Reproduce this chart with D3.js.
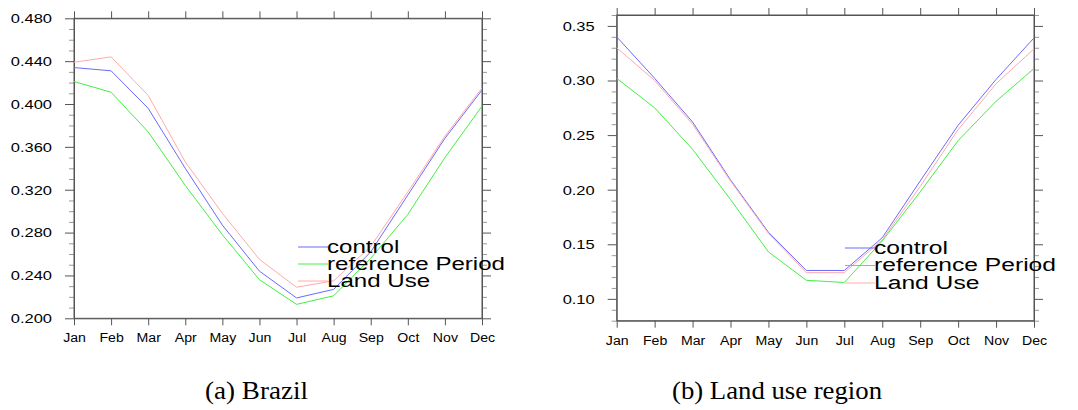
<!DOCTYPE html>
<html>
<head>
<meta charset="utf-8">
<script src="https://cdn.jsdelivr.net/npm/d3@7"></script>
<style>
  body { margin: 0; background: #fff; }
  svg { display: block; }
  .tick text { font-family: "Liberation Sans", Arial, sans-serif; fill: #000; }
</style>
</head>
<body>
<div id="viz"></div>
<script>
// months on the x axis
var months = ["Jan","Feb","Mar","Apr","May","Jun","Jul","Aug","Sep","Oct","Nov","Dec"];
var seriesNames = ["control", "reference Period", "Land Use"];
var seriesColors = ["#6a6aff", "#44ee44", "#ffaaaa"];

// (a) Brazil
var brazilControl   = [0.434, 0.431, 0.396, 0.340, 0.287, 0.244, 0.219, 0.227, 0.262, 0.315, 0.368, 0.413];
var brazilReference = [0.421, 0.411, 0.374, 0.324, 0.278, 0.236, 0.213, 0.221, 0.256, 0.297, 0.350, 0.398];
var brazilLandUse   = [0.439, 0.444, 0.408, 0.346, 0.298, 0.255, 0.229, 0.235, 0.267, 0.318, 0.370, 0.415];
var brazilTicks = [0.200, 0.240, 0.280, 0.320, 0.360, 0.400, 0.440, 0.480];

// (b) Land use region
var regionControl   = [0.340, 0.302, 0.262, 0.209, 0.161, 0.126, 0.126, 0.156, 0.208, 0.259, 0.301, 0.339];
var regionReference = [0.302, 0.275, 0.237, 0.191, 0.143, 0.117, 0.115, 0.153, 0.198, 0.245, 0.281, 0.311];
var regionLandUse   = [0.330, 0.300, 0.260, 0.208, 0.160, 0.124, 0.124, 0.154, 0.203, 0.255, 0.297, 0.329];
var regionTicks = [0.10, 0.15, 0.20, 0.25, 0.30, 0.35];

var panels = [
  {left: 74, right: 482, top: 18.3, bottom: 318.3, domain: [0.20, 0.48],
   ticks: brazilTicks, fmt: d3.format(".3f"),
   series: [brazilControl, brazilReference, brazilLandUse],
   legend: [298, 247, 17, 178], caption: "(a) Brazil", capX: 256.5, capW: 103},
  {left: 616.7, right: 1034, top: 15, bottom: 320.7, domain: [0.08, 0.36],
   ticks: regionTicks, fmt: d3.format(".2f"),
   series: [regionControl, regionReference, regionLandUse],
   legend: [845, 248, 17.5, 182], caption: "(b) Land use region", capX: 777, capW: 210}
];

var svg = d3.select("#viz").append("svg").attr("width", 1078).attr("height", 410);

// NCL fonts are wider than Liberation Sans, stretch the text horizontally
function stretch(sel, factor) {
  sel.each(function() {
    var w = this.getComputedTextLength();
    d3.select(this).attr("textLength", w * factor).attr("lengthAdjust", "spacingAndGlyphs");
  });
}

function styleAxis(g) {
  g.select(".domain").attr("stroke", "#555");
  g.selectAll(".tick line").attr("stroke", "#555");
}

panels.forEach(function(p) {
  var x = d3.scalePoint().domain(months).range([p.left, p.right]);
  var y = d3.scaleLinear().domain(p.domain).range([p.bottom, p.top]);
  var minor = d3.range(Math.round(p.domain[0] * 100), Math.round(p.domain[1] * 100) + 1)
    .map(function(d) { return d / 100; })
    .filter(function(d) { return !p.ticks.some(function(t) { return Math.abs(t - d) < 1e-6; }); });

  var g = svg.append("g");

  // minor ticks on both sides
  g.append("g").attr("transform", "translate(" + p.left + ",0)")
    .call(d3.axisLeft(y).tickValues(minor).tickSize(5).tickFormat(""))
    .call(function(a) { a.select(".domain").remove(); a.selectAll("line").attr("stroke", "#999"); });
  g.append("g").attr("transform", "translate(" + p.right + ",0)")
    .call(d3.axisRight(y).tickValues(minor).tickSize(5).tickFormat(""))
    .call(function(a) { a.select(".domain").remove(); a.selectAll("line").attr("stroke", "#999"); });

  var yl = g.append("g").attr("transform", "translate(" + p.left + ",0)")
    .call(d3.axisLeft(y).tickValues(p.ticks).tickSize(9).tickPadding(13).tickSizeOuter(0).tickFormat(p.fmt))
    .call(styleAxis);
  yl.selectAll("text").style("font-size", "13.5px");
  stretch(yl.selectAll("text"), 1.22);

  g.append("g").attr("transform", "translate(" + p.right + ",0)")
    .call(d3.axisRight(y).tickValues(p.ticks).tickSize(9).tickSizeOuter(0).tickFormat(""))
    .call(styleAxis);

  var xl = g.append("g").attr("transform", "translate(0," + p.bottom + ")")
    .call(d3.axisBottom(x).tickSize(7).tickPadding(8).tickSizeOuter(0))
    .call(styleAxis);
  xl.selectAll("text").style("font-size", "12.5px");
  stretch(xl.selectAll("text"), 1.13);

  g.append("g").attr("transform", "translate(0," + p.top + ")")
    .call(d3.axisTop(x).tickSize(7).tickSizeOuter(0).tickFormat(""))
    .call(styleAxis);

  // frame
  g.append("rect")
    .attr("x", p.left).attr("y", p.top)
    .attr("width", p.right - p.left).attr("height", p.bottom - p.top)
    .attr("fill", "none").attr("stroke", "#555");

  var line = d3.line().x(function(d, i) { return x(months[i]); }).y(function(d) { return y(d); });
  p.series.forEach(function(s, i) {
    g.append("path").datum(s)
      .attr("d", line)
      .attr("fill", "none")
      .attr("stroke", seriesColors[i])
      .attr("stroke-width", 1);
  });

  // legend, scaled so "reference Period" matches the original width
  var lx = p.legend[0], ly = p.legend[1], dy = p.legend[2], factor = 1;
  var texts = seriesNames.map(function(name, i) {
    g.append("line")
      .attr("x1", lx).attr("x2", lx + 30)
      .attr("y1", ly + i * dy).attr("y2", ly + i * dy)
      .attr("stroke", seriesColors[i]);
    return g.append("text")
      .attr("x", lx + 29).attr("y", ly + i * dy + 5.5)
      .style("font-family", "Liberation Sans, Arial, sans-serif")
      .style("font-size", "18px")
      .text(name);
  });
  factor = p.legend[3] / texts[1].node().getComputedTextLength();
  texts.forEach(function(t) { stretch(t, factor); });

  var cap = svg.append("text")
    .attr("x", p.capX).attr("y", 399)
    .attr("text-anchor", "middle")
    .style("font-family", "Liberation Serif, Times New Roman, serif")
    .style("font-size", "25px")
    .text(p.caption);
  stretch(cap, p.capW / cap.node().getComputedTextLength());
});
</script>
</body>
</html>
